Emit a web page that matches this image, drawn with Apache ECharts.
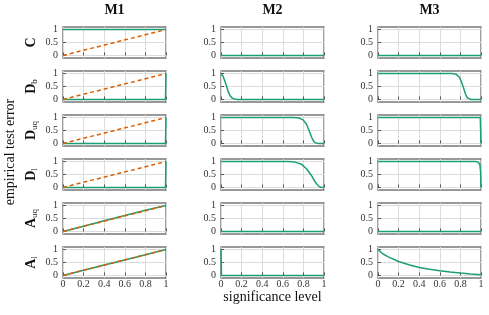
<!DOCTYPE html>
<html><head><meta charset="utf-8">
<script src="https://cdn.jsdelivr.net/npm/echarts@6/dist/echarts.min.js"></script>
<style>html,body{margin:0;padding:0;background:#fff}#c{width:489px;height:315px}</style>
</head><body><div id="c"></div>
<script>
// ---- labels ----
const models = ['M1', 'M2', 'M3'];
const rowMain = ['C', 'D', 'D', 'D', 'A', 'A'];
const rowSub = ['', 'b', 'uq', 'l', 'uq', 'l'];
const yTicks = [0, 0.5, 1];
const xTicks = [0, 0.2, 0.4, 0.6, 0.8, 1];
const yAxisTitle = 'empirical test error';
const xAxisTitle = 'significance level';

// ---- reference (orange dashed) line in M1 ----
const nominal = [[0, 0], [1, 1]];

// ---- M1 empirical test error ----
const m1_C = [[0, 1], [1, 1]];
const m1_Db = [[0, 0], [0.995, 0], [1, 1]];
const m1_Duq = [[0, 0], [0.995, 0], [1, 1]];
const m1_Dl = [[0, 0], [0.995, 0], [1, 1]];
const m1_Auq = [[0, 0], [0.2, 0.2], [0.4, 0.41], [0.6, 0.62], [0.8, 0.82], [1, 1]];
const m1_Al = [[0, 0], [0.2, 0.2], [0.4, 0.4], [0.6, 0.6], [0.8, 0.8], [1, 1]];

// ---- M2 ----
const m2_C = [[0, 0], [1, 0]];
const m2_Db = [[0, 1], [0.01, 0.97], [0.02, 0.9], [0.04, 0.68], [0.055, 0.5], [0.07, 0.3], [0.09, 0.13], [0.11, 0.05], [0.13, 0.015], [0.16, 0], [1, 0]];
const m2_Duq = [[0, 1], [0.7, 1], [0.76, 0.98], [0.8, 0.9], [0.83, 0.74], [0.855, 0.5], [0.88, 0.24], [0.9, 0.08], [0.92, 0.015], [0.95, 0], [1, 0]];
const m2_Dl = [[0, 1], [0.65, 1], [0.72, 0.98], [0.78, 0.9], [0.83, 0.72], [0.88, 0.45], [0.92, 0.18], [0.95, 0.04], [0.97, 0.005], [1, 0]];
const m2_Auq = [[0, 0], [1, 0]];
const m2_Al = [[0, 1], [0.005, 0], [1, 0]];

// ---- M3 ----
const m3_C = [[0, 0], [1, 0]];
const m3_Db = [[0, 1], [0.72, 1], [0.76, 0.97], [0.79, 0.86], [0.81, 0.68], [0.83, 0.45], [0.85, 0.2], [0.865, 0.07], [0.88, 0.015], [0.9, 0], [1, 0]];
const m3_Duq = [[0, 1], [0.993, 1], [1, 0]];
const m3_Dl = [[0, 1], [0.95, 1], [0.975, 0.97], [0.99, 0.86], [0.996, 0.6], [1, 0]];
const m3_Auq = [[0, 0], [1, 0]];
const m3_Al = [[0, 1], [0.05, 0.83], [0.1, 0.72], [0.2, 0.54], [0.3, 0.41], [0.4, 0.31], [0.5, 0.24], [0.6, 0.18], [0.7, 0.13], [0.8, 0.09], [0.9, 0.055], [1, 0.03]];

const panels = [
  [m1_C, m2_C, m3_C],
  [m1_Db, m2_Db, m3_Db],
  [m1_Duq, m2_Duq, m3_Duq],
  [m1_Dl, m2_Dl, m3_Dl],
  [m1_Auq, m2_Auq, m3_Auq],
  [m1_Al, m2_Al, m3_Al]
];

// ---- layout / style ----
const FONT = 'Liberation Serif';
const GREEN = '#1b9e77', ORANGE = '#d95f02';
const colLeft = [63, 221, 378];
const PW = 103, PH = 31, TOP0 = 27, PITCH = 44;

const grids = [], xAxes = [], yAxes = [], series = [];
let idx = 0;
for (let r = 0; r < 6; r++) {
  for (let c = 0; c < 3; c++) {
    grids.push({
      left: colLeft[c], top: TOP0 + PITCH * r, width: PW, height: PH,
      show: true, borderColor: '#777', borderWidth: 1.4, backgroundColor: '#fff', z: 0
    });
    xAxes.push({
      type: 'value', gridIndex: idx, min: 0, max: 1, interval: 0.2,
      axisLine: { show: false },
      axisTick: { show: true, inside: true, length: 3, customValues: xTicks, lineStyle: { color: '#555', width: 1 } },
      splitLine: { show: true, lineStyle: { color: '#dcdcdc', width: 1 } },
      axisLabel: { show: r === 5, margin: 1, fontFamily: FONT, fontSize: 10, color: '#333',
        customValues: xTicks, formatter: v => String(+(+v).toFixed(1)) }
    });
    yAxes.push({
      type: 'value', gridIndex: idx, min: -0.1, max: 1.1,
      axisLine: { show: false },
      axisTick: { show: true, inside: true, length: 3, customValues: yTicks, lineStyle: { color: '#555', width: 1 } },
      splitLine: { show: true, lineStyle: { color: '#dcdcdc', width: 1 } },
      axisLabel: { show: true, margin: 5, fontFamily: FONT, fontSize: 10, color: '#333', customValues: yTicks,
        formatter: v => String(v) }
    });
    series.push({
      type: 'line', xAxisIndex: idx, yAxisIndex: idx, data: panels[r][c],
      showSymbol: false, symbol: 'none', clip: false, z: 3,
      lineStyle: { color: GREEN, width: 1.5 }, animation: false
    });
    if (c === 0) {
      series.push({
        type: 'line', xAxisIndex: idx, yAxisIndex: idx, data: nominal,
        showSymbol: false, symbol: 'none', clip: false, z: 4,
        lineStyle: { color: ORANGE, width: 1.5, type: [4, 3] }, animation: false
      });
    }
    idx++;
  }
}

const graphic = [];
models.forEach((m, c) => {
  graphic.push({ type: 'text', x: colLeft[c] + PW / 2, y: 10,
    style: { text: m, fontFamily: FONT, fontWeight: 'bold', fontSize: 14, fill: '#111', align: 'center', verticalAlign: 'middle' } });
});
rowMain.forEach((t, r) => {
  const txt = rowSub[r] ? '{m|' + t + '}{s|' + rowSub[r] + '}' : '{m|' + t + '}';
  graphic.push({ type: 'text', x: 31, y: TOP0 + PITCH * r + PH / 2, rotation: Math.PI / 2,
    style: { text: txt, align: 'center', verticalAlign: 'middle',
      rich: {
        m: { fontFamily: FONT, fontWeight: 'bold', fontSize: 14, fill: '#111', lineHeight: 16 },
        s: { fontFamily: FONT, fontSize: 9, fill: '#111', verticalAlign: 'bottom', lineHeight: 16 }
      } } });
});
graphic.push({ type: 'text', x: 10, y: 152, rotation: Math.PI / 2,
  style: { text: yAxisTitle, fontFamily: FONT, fontSize: 14, fill: '#111', align: 'center', verticalAlign: 'middle' } });
graphic.push({ type: 'text', x: colLeft[1] + PW / 2, y: 297,
  style: { text: xAxisTitle, fontFamily: FONT, fontSize: 14, fill: '#111', align: 'center', verticalAlign: 'middle' } });

const chart = echarts.init(document.getElementById('c'), null, { renderer: 'canvas' });
chart.setOption({
  animation: false,
  grid: grids, xAxis: xAxes, yAxis: yAxes, series: series, graphic: graphic
});
</script></body></html>
